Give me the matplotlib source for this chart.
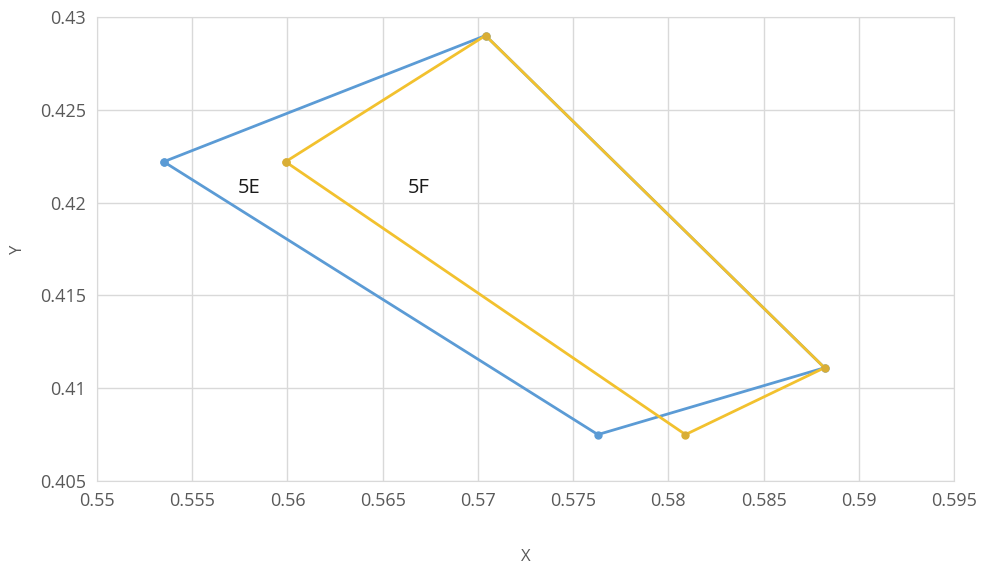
import matplotlib.pyplot as plt

# polygon vertices (closed)
x_5e = [0.5535, 0.5704, 0.5882, 0.5763, 0.5535]
y_5e = [0.4222, 0.4290, 0.4111, 0.4075, 0.4222]
x_5f = [0.5599, 0.5704, 0.5882, 0.5809, 0.5599]
y_5f = [0.4222, 0.4290, 0.4111, 0.4075, 0.4222]

labels = ["5E", "5F"]
label_x = [0.5580, 0.5669]
label_y = [0.4208, 0.4208]

x_ticks = [0.55, 0.555, 0.56, 0.565, 0.57, 0.575, 0.58, 0.585, 0.59, 0.595]
y_ticks = [0.405, 0.41, 0.415, 0.42, 0.425, 0.43]

plt.rcParams['font.family'] = ['Open Sans', 'DejaVu Sans']

fig = plt.figure(figsize=(9.82, 5.64), dpi=100)
ax = fig.add_axes([0.0988, 0.1472, 0.8727, 0.8227])

ax.plot(x_5e, y_5e, color='#5B9BD5', lw=2.0, marker='o', ms=5, zorder=3)
ax.plot(x_5f, y_5f, color='#F2C12E', lw=2.0, marker='o', ms=5,
        mfc='#D9AE36', mec='#D9AE36', zorder=4)

for t, lx, ly in zip(labels, label_x, label_y):
    ax.text(lx, ly, t, fontsize=14.5, color='#1a1a1a', ha='center', va='center')

ax.set_xlim(0.55, 0.595)
ax.set_ylim(0.405, 0.43)
ax.set_xticks(x_ticks)
ax.set_yticks(y_ticks)
ax.set_xticklabels([f"{v:g}" for v in x_ticks])
ax.set_yticklabels([f"{v:g}" for v in y_ticks])
ax.tick_params(length=0, labelsize=13, colors='#595959', pad=8)
ax.grid(True, color='#D9D9D9', lw=1)
ax.set_axisbelow(True)
for s in ax.spines.values():
    s.set_color('#D9D9D9')

ax.set_xlabel('X', fontsize=12, color='#595959', labelpad=28)
ax.set_ylabel('Y', fontsize=12, color='#595959', labelpad=10)

fig.savefig('out.png', dpi=100)
